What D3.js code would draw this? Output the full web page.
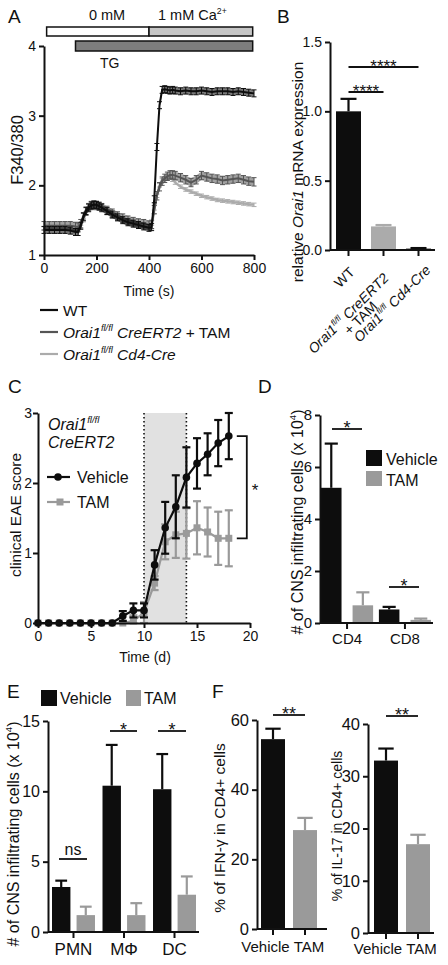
<!DOCTYPE html>
<html><head><meta charset="utf-8">
<script src="https://cdn.jsdelivr.net/npm/d3@7"></script>
<style>
body{margin:0;background:#fff}
svg{display:block}
text{font-family:"Liberation Sans",Arial,Helvetica,sans-serif;fill:#111}
</style>
</head><body>
<svg id="c" width="448" height="965"></svg>
<script>
// ---------------- DATA ----------------
// Panel A: Fura-2 ratio traces
const timeA = [0,20,40,60,80,100,120,130,140,150,160,170,180,190,200,210,220,240,260,280,300,320,340,360,380,400,410,420,430,440,450,460,470,480,490,500,520,540,560,580,600,620,640,660,680,700,720,740,760,780,800];
const wtA  = [1.36,1.36,1.36,1.36,1.36,1.35,1.33,1.33,1.42,1.55,1.63,1.68,1.71,1.72,1.72,1.70,1.68,1.63,1.58,1.54,1.50,1.47,1.45,1.43,1.41,1.39,1.40,1.80,2.55,3.15,3.37,3.38,3.37,3.36,3.37,3.36,3.35,3.36,3.35,3.35,3.36,3.35,3.34,3.35,3.35,3.35,3.34,3.35,3.34,3.33,3.32];
const tamA = [1.42,1.42,1.42,1.42,1.42,1.42,1.41,1.40,1.45,1.55,1.63,1.68,1.71,1.72,1.71,1.70,1.68,1.64,1.60,1.56,1.53,1.50,1.48,1.46,1.45,1.43,1.44,1.65,1.85,1.98,2.06,2.10,2.13,2.15,2.15,2.14,2.11,2.08,2.04,2.08,2.14,2.12,2.10,2.09,2.07,2.08,2.09,2.10,2.08,2.06,2.05];
const cd4A = [1.38,1.38,1.38,1.38,1.38,1.38,1.36,1.35,1.40,1.50,1.60,1.66,1.70,1.71,1.71,1.69,1.67,1.62,1.57,1.53,1.49,1.46,1.44,1.42,1.40,1.38,1.40,1.62,1.85,2.00,2.07,2.10,2.11,2.11,2.08,2.04,1.98,1.94,1.91,1.88,1.85,1.83,1.81,1.79,1.78,1.77,1.76,1.75,1.74,1.73,1.72];
const semA = [0.05, 0.06, 0.025];           // WT, CreERT2+TAM, Cd4-Cre
const xTicksA = [0,200,400,600,800];
const yTicksA = [1,2,3,4];

// Panel B: relative Orai1 mRNA
const groupsB = ["WT","CreERT2","Cd4Cre"];
const valuesB = [1.00, 0.17, 0.01];
const errB    = [0.09, 0.01, 0.004];
const yTicksB = [0.0,0.5,1.0,1.5];

// Panel C: clinical EAE score
const daysC   = [0,1,2,3,4,5,6,7,8,9,10,11,12,13,14,15,16,17,18];
const vehC    = [0,0,0,0,0,0,0,0,0.10,0.18,0.18,0.83,1.36,1.66,2.08,2.28,2.41,2.57,2.67];
const vehErrC = [0,0,0,0,0,0,0,0,0.07,0.10,0.10,0.21,0.37,0.45,0.43,0.36,0.30,0.33,0.33];
const tamC    = [0,0,0,0,0,0,0,0,0,0.03,0.15,0.57,1.16,1.26,1.28,1.36,1.30,1.21,1.21];
const tamErrC = [0,0,0,0,0,0,0,0,0,0.08,0.15,0.10,0.25,0.33,0.36,0.38,0.35,0.38,0.40];
const xTicksC = [0,5,10,15,20];
const yTicksC = [0,1,2,3];

// Panel D: CNS infiltrating T cells
const groupsD = ["CD4","CD8"];
const vehD    = [5.2, 0.52];
const vehErrD = [1.7, 0.10];
const tamD    = [0.68, 0.12];
const tamErrD = [0.50, 0.05];
const yTicksD = [0,2,4,6,8];

// Panel E: CNS infiltrating myeloid cells
const groupsE = ["PMN","MΦ","DC"];
const vehE    = [3.2, 10.4, 10.15];
const vehErrE = [0.45, 2.9, 2.5];
const tamE    = [1.2, 1.2, 2.65];
const tamErrE = [0.6, 0.85, 1.3];
const yTicksE = [0,5,10,15];

// Panel F: cytokines
const groupsF = ["Vehicle","TAM"];
const ifnF    = [54.5, 28.4];
const ifnErrF = [3.0, 3.5];
const il17F   = [33.0, 17.0];
const il17ErrF= [2.3, 1.8];
const yTicksF1 = [0,20,40,60];
const yTicksF2 = [0,10,20,30,40];

// ---------------- DRAWING ----------------
const FONT = '"Liberation Sans", Arial, Helvetica, sans-serif';
const INK = '#111';
const GREY = '#9a9a9a';
const svg = d3.select('#c');

function rich(t, parts, fs){
  let shift = 0;
  parts.forEach(p => {
    const s = t.append('tspan').text(p.t);
    if (p.i) s.attr('font-style','italic');
    const target = p.sup ? -fs*0.42 : 0;
    if (p.sup) s.attr('font-size', (fs*0.6).toFixed(1));
    if (target !== shift){ s.attr('dy', target - shift); shift = target; }
  });
  return t;
}
function styleAxis(g, fs){
  g.attr('font-family', FONT).attr('font-size', fs);
  g.select('.domain').attr('stroke', INK).attr('stroke-width', 2);
  g.selectAll('.tick line').attr('stroke', INK).attr('stroke-width', 2);
  g.selectAll('.tick text').attr('fill', INK);
}
function yAxis(scale, x, ticks, fmt, fs, pad){
  const g = svg.append('g').attr('transform', `translate(${x},0)`)
    .call(d3.axisLeft(scale).tickValues(ticks).tickFormat(fmt).tickSize(5).tickSizeOuter(0).tickPadding(pad === undefined ? 3 : pad));
  styleAxis(g, fs);
  return g;
}
function xAxisLinear(scale, y, ticks, fs){
  const g = svg.append('g').attr('transform', `translate(0,${y})`)
    .call(d3.axisBottom(scale).tickValues(ticks).tickSize(5).tickSizeOuter(0).tickPadding(3));
  styleAxis(g, fs);
  return g;
}
function xAxisBand(scale, y, x0, x1, fs, pad){
  const g = svg.append('g').attr('transform', `translate(0,${y})`)
    .call(d3.axisBottom(scale).tickSize(6).tickSizeOuter(0).tickPadding(pad));
  styleAxis(g, fs);
  g.select('.domain').remove();
  svg.append('line').attr('x1', x0).attr('x2', x1).attr('y1', y).attr('y2', y)
    .attr('stroke', INK).attr('stroke-width', 2);
  return g;
}
function panelLetter(x, y, s){
  svg.append('text').attr('x', x).attr('y', y).attr('font-size', 19).text(s);
}
function bar(x, w, yS, v, e, color){
  svg.append('rect').attr('x', x).attr('width', w).attr('y', yS(v)).attr('height', yS(0) - yS(v)).attr('fill', color);
  if (e > 0){
    const cx = x + w/2, cw = w*0.32;
    svg.append('line').attr('x1', cx).attr('x2', cx).attr('y1', yS(v)).attr('y2', yS(v+e)).attr('stroke', color).attr('stroke-width', 2.2);
    svg.append('line').attr('x1', cx-cw).attr('x2', cx+cw).attr('y1', yS(v+e)).attr('y2', yS(v+e)).attr('stroke', color).attr('stroke-width', 2.2);
  }
}
function sig(x1, x2, y, txt, fs){
  svg.append('line').attr('x1', x1).attr('x2', x2).attr('y1', y).attr('y2', y).attr('stroke', INK).attr('stroke-width', 1.8);
  svg.append('text').attr('x', (x1+x2)/2).attr('y', y + (txt === 'ns' ? -4 : 5)).attr('text-anchor','middle')
    .attr('font-size', fs).text(txt);
}
function rotLabel(cx, cy, fs, parts){
  const t = svg.append('text').attr('transform', `translate(${cx},${cy}) rotate(-90)`)
    .attr('text-anchor','middle').attr('dy','0.35em').attr('font-size', fs);
  rich(t, parts, fs);
  return t;
}

// ===== Panel A =====
panelLetter(8, 23, 'A');
const xA = d3.scaleLinear().domain([0,800]).range([44,254]);
const yA = d3.scaleLinear().domain([1,4]).range([255,46]);
svg.append('rect').attr('x', xA(10)).attr('y', 27).attr('width', xA(400)-xA(10)).attr('height', 9)
  .attr('fill','#fff').attr('stroke', INK).attr('stroke-width', 1.5);
svg.append('rect').attr('x', xA(400)).attr('y', 27).attr('width', xA(795)-xA(400)).attr('height', 9)
  .attr('fill','#c6c6c6').attr('stroke', INK).attr('stroke-width', 1.5);
svg.append('rect').attr('x', xA(120)).attr('y', 41).attr('width', xA(795)-xA(120)).attr('height', 10)
  .attr('fill','#7d7d7d').attr('stroke', INK).attr('stroke-width', 1.5);
svg.append('text').attr('x', 107).attr('y', 20).attr('text-anchor','middle').attr('font-size', 14.5).text('0 mM');
rich(svg.append('text').attr('x', 158).attr('y', 20).attr('font-size', 14.5),
  [{t:'1 mM Ca'},{t:'2+', sup:true}], 14.5);
svg.append('text').attr('x', 100).attr('y', 68).attr('font-size', 14).text('TG');

const seriesA = [
  {v: cd4A, e: semA[2], c: '#ababab'},
  {v: tamA, e: semA[1], c: '#555555'},
  {v: wtA,  e: semA[0], c: '#0d0d0d'}
];
seriesA.forEach(s => {
  const pts = timeA.map((t,i) => ({t, v: s.v[i]}));
  svg.append('path').datum(pts)
    .attr('d', d3.area().x(d => xA(d.t)).y0(d => yA(d.v - s.e)).y1(d => yA(d.v + s.e)))
    .attr('fill', s.c).attr('opacity', 0.55);
  pts.forEach(d => {
    svg.append('line').attr('x1', xA(d.t)).attr('x2', xA(d.t)).attr('y1', yA(d.v - s.e)).attr('y2', yA(d.v + s.e))
      .attr('stroke', s.c).attr('stroke-width', 1);
    [d.v - s.e, d.v + s.e].forEach(q => svg.append('line').attr('x1', xA(d.t)-2.5).attr('x2', xA(d.t)+2.5)
      .attr('y1', yA(q)).attr('y2', yA(q)).attr('stroke', s.c).attr('stroke-width', 1));
  });
  svg.append('path').datum(pts).attr('d', d3.line().x(d => xA(d.t)).y(d => yA(d.v)))
    .attr('fill','none').attr('stroke', s.c).attr('stroke-width', 2);
});
yAxis(yA, 44, yTicksA, d3.format('d'), 14);
xAxisLinear(xA, 255, xTicksA, 14);
svg.append('text').attr('x', 149).attr('y', 296).attr('text-anchor','middle').attr('font-size', 14).text('Time (s)');
rotLabel(17, 150, 16.5, [{t:'F340/380'}]);
const legA = [
  {y: 310, c: '#0d0d0d', parts: [{t:'WT'}]},
  {y: 332, c: '#555555', parts: [{t:'Orai1', i:true},{t:'fl/fl', i:true, sup:true},{t:' CreERT2', i:true},{t:' + TAM'}]},
  {y: 354, c: '#ababab', parts: [{t:'Orai1', i:true},{t:'fl/fl', i:true, sup:true},{t:' Cd4-Cre', i:true}]}
];
legA.forEach(l => {
  svg.append('line').attr('x1', 40).attr('x2', 58).attr('y1', l.y).attr('y2', l.y).attr('stroke', l.c).attr('stroke-width', 2.2);
  rich(svg.append('text').attr('x', 63).attr('y', l.y + 5.5).attr('font-size', 15.5), l.parts, 15.5);
});

// ===== Panel B =====
panelLetter(277, 23, 'B');
const yB = d3.scaleLinear().domain([0,1.5]).range([250,42]);
const xB = d3.scaleBand().domain(groupsB).range([336,431]).paddingInner(0.2857);
const colB = ['#0d0d0d', '#ababab', '#0d0d0d'];
groupsB.forEach((g,i) => bar(xB(g), xB.bandwidth(), yB, valuesB[i], errB[i], colB[i]));
yAxis(yB, 330, yTicksB, d3.format('.1f'), 14);
const gxB = xAxisBand(xB, 250, 330, 435, 14, 3);
gxB.selectAll('.tick text').remove();
const labB = [
  {g:'WT', dx: 7, dy: 23, lines: [[{t:'WT'}]]},
  {g:'CreERT2', dx: 6, dy: 29, lines: [[{t:'Orai1', i:true},{t:'fl/fl', i:true, sup:true},{t:' CreERT2', i:true}], [{t:'+ TAM'}]]},
  {g:'Cd4Cre', dx: 13, dy: 21, lines: [[{t:'Orai1', i:true},{t:'fl/fl', i:true, sup:true},{t:' Cd4-Cre', i:true}]]}
];
labB.forEach(l => {
  const cx = xB(l.g) + xB.bandwidth()/2;
  const gg = svg.append('g').attr('transform', `translate(${cx + l.dx},${250 + l.dy}) rotate(-45)`);
  l.lines.forEach((parts, k) => {
    const t = gg.append('text').attr('text-anchor','end').attr('font-size', 14)
      .attr('x', k ? -28 : 0).attr('y', k ? 12 : 0);
    rich(t, parts, 14);
  });
});
sig(xB('WT') + xB.bandwidth()/2, xB('CreERT2') + xB.bandwidth()/2, 92, '****', 17);
sig(xB('WT') + xB.bandwidth()/2, xB('Cd4Cre') + xB.bandwidth()/2, 67, '****', 17);
rotLabel(298, 172, 15.5, [{t:'relative '},{t:'Orai1', i:true},{t:' mRNA expression'}]);

// ===== Panel C =====
panelLetter(8, 393, 'C');
const xC = d3.scaleLinear().domain([0,20]).range([38,250]);
const yC = d3.scaleLinear().domain([0,3]).range([623,413]);
svg.append('rect').attr('x', xC(10)).attr('y', yC(3)).attr('width', xC(14)-xC(10)).attr('height', yC(0)-yC(3)).attr('fill','#e1e1e1');
[10,14].forEach(d => svg.append('line').attr('x1', xC(d)).attr('x2', xC(d)).attr('y1', yC(3)).attr('y2', yC(0))
  .attr('stroke', INK).attr('stroke-width', 1.6).attr('stroke-dasharray','1.6,2.4'));
function seriesC(vals, errs, color, marker){
  svg.append('path').datum(daysC).attr('d', d3.line().x(d => xC(d)).y((d,i) => yC(vals[i])))
    .attr('fill','none').attr('stroke', color).attr('stroke-width', 2.2);
  daysC.forEach((d,i) => {
    if (errs[i] > 0){
      const x = xC(d), y0 = yC(Math.max(0, vals[i]-errs[i])), y1 = yC(vals[i]+errs[i]);
      svg.append('line').attr('x1', x).attr('x2', x).attr('y1', y0).attr('y2', y1).attr('stroke', color).attr('stroke-width', 2.2);
      [y0, y1].forEach(yy => svg.append('line').attr('x1', x-4).attr('x2', x+4).attr('y1', yy).attr('y2', yy).attr('stroke', color).attr('stroke-width', 2.2));
    }
    if (marker === 'circle') svg.append('circle').attr('cx', xC(d)).attr('cy', yC(vals[i])).attr('r', 3.8).attr('fill', color);
    else svg.append('rect').attr('x', xC(d)-3.5).attr('y', yC(vals[i])-3.5).attr('width', 7).attr('height', 7).attr('fill', color);
  });
}
seriesC(tamC, tamErrC, GREY, 'square');
seriesC(vehC, vehErrC, '#0d0d0d', 'circle');
yAxis(yC, 38, yTicksC, d3.format('d'), 14, 1);
xAxisLinear(xC, 623, xTicksC, 14);
svg.append('text').attr('x', 145).attr('y', 662).attr('text-anchor','middle').attr('font-size', 14).text('Time (d)');
rotLabel(16, 515, 15.5, [{t:'clinical EAE score'}]);
rich(svg.append('text').attr('x', 48).attr('y', 430).attr('font-size', 16), [{t:'Orai1', i:true},{t:'fl/fl', i:true, sup:true}], 16);
svg.append('text').attr('x', 48).attr('y', 448).attr('font-size', 16).attr('font-style','italic').text('CreERT2');
svg.append('line').attr('x1', 47).attr('x2', 70).attr('y1', 477).attr('y2', 477).attr('stroke', '#0d0d0d').attr('stroke-width', 2.2);
svg.append('circle').attr('cx', 58).attr('cy', 477).attr('r', 3.8).attr('fill', '#0d0d0d');
svg.append('text').attr('x', 77).attr('y', 483).attr('font-size', 16).text('Vehicle');
svg.append('line').attr('x1', 47).attr('x2', 70).attr('y1', 502).attr('y2', 502).attr('stroke', GREY).attr('stroke-width', 2.2);
svg.append('rect').attr('x', 56.5).attr('y', 498.5).attr('width', 7).attr('height', 7).attr('fill', GREY);
svg.append('text').attr('x', 77).attr('y', 508).attr('font-size', 16).text('TAM');
{
  const bx = xC(18) + 18, y1 = yC(vehC[18]), y2 = yC(tamC[18]);
  svg.append('path').attr('d', `M${bx-10},${y1}H${bx}V${y2}H${bx-10}`).attr('fill','none').attr('stroke', INK).attr('stroke-width', 1.8);
  svg.append('text').attr('x', bx + 5).attr('y', (y1+y2)/2 + 9).attr('font-size', 17).text('*');
}

// ===== Panel D =====
panelLetter(258, 393, 'D');
const yD = d3.scaleLinear().domain([0,8]).range([623,415]);
const xD = d3.scaleBand().domain(groupsD).range([321,431]).paddingInner(0.1);
const subD = d3.scaleBand().domain(['veh','tam']).range([0, xD.bandwidth()]).paddingInner(0.35);
groupsD.forEach((g,i) => {
  bar(xD(g) + subD('veh'), subD.bandwidth(), yD, vehD[i], vehErrD[i], '#0d0d0d');
  bar(xD(g) + subD('tam'), subD.bandwidth(), yD, tamD[i], tamErrD[i], GREY);
});
yAxis(yD, 320, yTicksD, d3.format('d'), 15);
xAxisBand(xD, 623, 320, 433, 15, 4);
sig(332, 362, 429, '*', 18);
sig(389, 419, 587, '*', 18);
rotLabel(297, 522, 16, [{t:'# of CNS infiltrating cells (x 10'},{t:'4', sup:true},{t:')'}]);
svg.append('rect').attr('x', 366).attr('y', 450).attr('width', 16).attr('height', 16).attr('fill', '#0d0d0d');
svg.append('text').attr('x', 386).attr('y', 465).attr('font-size', 16).text('Vehicle');
svg.append('rect').attr('x', 366).attr('y', 471).attr('width', 16).attr('height', 15).attr('fill', GREY);
svg.append('text').attr('x', 386).attr('y', 486).attr('font-size', 16).text('TAM');

// ===== Panel E =====
panelLetter(7, 698, 'E');
const yE = d3.scaleLinear().domain([0,15]).range([932,721]);
const xE = d3.scaleBand().domain(groupsE).range([52,196]).paddingInner(0.149);
const subE = d3.scaleBand().domain(['veh','tam']).range([0, xE.bandwidth()]).paddingInner(0.25);
groupsE.forEach((g,i) => {
  bar(xE(g) + subE('veh'), subE.bandwidth(), yE, vehE[i], vehErrE[i], '#0d0d0d');
  bar(xE(g) + subE('tam'), subE.bandwidth(), yE, tamE[i], tamErrE[i], GREY);
});
yAxis(yE, 48, yTicksE, d3.format('d'), 16);
xAxisBand(xE, 932, 48, 199, 17, 5);
sig(59, 87, 859, 'ns', 16);
sig(110, 137, 731, '*', 18);
sig(158, 186, 731, '*', 18);
rotLabel(13, 834, 16, [{t:'# of CNS infiltrating cells (x 10'},{t:'4', sup:true},{t:')'}]);
svg.append('rect').attr('x', 41).attr('y', 690).attr('width', 16).attr('height', 16).attr('fill', '#0d0d0d');
svg.append('text').attr('x', 60).attr('y', 704).attr('font-size', 16).text('Vehicle');
svg.append('rect').attr('x', 126).attr('y', 690).attr('width', 15).attr('height', 16).attr('fill', GREY);
svg.append('text').attr('x', 144).attr('y', 704).attr('font-size', 16).text('TAM');

// ===== Panel F =====
panelLetter(212, 698, 'F');
const colF = ['#0d0d0d', GREY];
const labelShiftF = {Vehicle: -7.5, TAM: 4};
const yF1 = d3.scaleLinear().domain([0,60]).range([929,720]);
const xF1 = d3.scaleBand().domain(groupsF).range([261,317]).paddingInner(0.25);
groupsF.forEach((g,i) => bar(xF1(g), xF1.bandwidth(), yF1, ifnF[i], ifnErrF[i], colF[i]));
yAxis(yF1, 257, yTicksF1, d3.format('d'), 16.5);
xAxisBand(xF1, 929, 257, 327, 15, 6).selectAll('.tick text').attr('dx', d => labelShiftF[d]);
sig(273, 305, 715, '**', 18);
rotLabel(220, 828, 15.5, [{t:'% of IFN-γ in CD4+ cells'}]);

const yF2 = d3.scaleLinear().domain([0,40]).range([933,724]);
const xF2 = d3.scaleBand().domain(groupsF).range([374,430]).paddingInner(0.25);
groupsF.forEach((g,i) => bar(xF2(g), xF2.bandwidth(), yF2, il17F[i], il17ErrF[i], colF[i]));
yAxis(yF2, 368, yTicksF2, d3.format('d'), 16.5);
xAxisBand(xF2, 933, 368, 434, 15, 4).selectAll('.tick text').attr('dx', d => labelShiftF[d] - 0.5);
sig(386, 418, 716, '**', 18);
rotLabel(337, 826, 14, [{t:'% of IL-17 in CD4+ cells'}]);
</script>
</body></html>
